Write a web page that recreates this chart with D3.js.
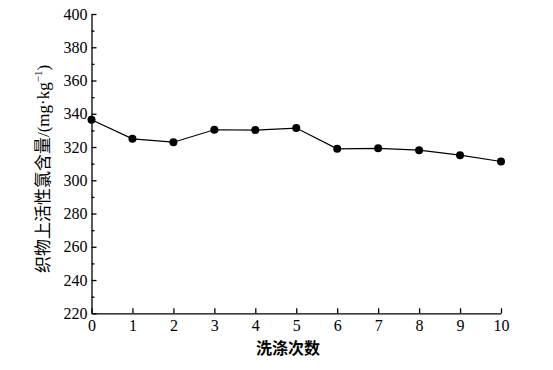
<!DOCTYPE html>
<html>
<head>
<meta charset="utf-8">
<script src="https://cdn.jsdelivr.net/npm/d3@7"></script>
<style>
  body { margin: 0; background: #fff; }
  svg { display: block; }
</style>
</head>
<body>
<svg id="chart" width="553" height="370"></svg>
<script>
// washes vs active chlorine on fabric
var washCounts = [0, 1, 2, 3, 4, 5, 6, 7, 8, 9, 10];
var chlorineValues = [336.4, 324.9, 322.9, 330.4, 330.2, 331.4, 318.9, 319.2, 318.1, 315.1, 311.3];
var xTickValues = [0, 1, 2, 3, 4, 5, 6, 7, 8, 9, 10];
var yTickValues = [220, 240, 260, 280, 300, 320, 340, 360, 380, 400];
var yMinorTicks = [230, 250, 270, 290, 310, 330, 350, 370, 390];
var xTitle = '洗涤次数';
var yTitle = '织物上活性氯含量';

var svg = d3.select('#chart');
var plotLeft = 91.5, plotRight = 501, plotTop = 14, plotBottom = 313.3;

var x = d3.scaleLinear().domain([0, 10]).range([plotLeft, plotRight]);
var y = d3.scaleLinear().domain([220, 400]).range([plotBottom, plotTop]);

var numFont = '"Liberation Serif", "Times New Roman", serif';
var cjkFont = '"Noto Sans CJK SC", sans-serif';

// x axis
var xAxis = svg.append('g')
    .attr('transform', 'translate(0,' + plotBottom + ')')
    .call(d3.axisBottom(x).tickValues(xTickValues).tickSize(-5).tickPadding(6).tickSizeOuter(0));
xAxis.selectAll('text').attr('font-family', numFont).attr('font-size', 16).attr('fill', '#000');

// y axis
var yAxis = svg.append('g')
    .attr('transform', 'translate(' + plotLeft + ',0)')
    .call(d3.axisLeft(y).tickValues(yTickValues).tickSize(-5).tickPadding(4).tickSizeOuter(0));
yAxis.selectAll('text').attr('font-family', numFont).attr('font-size', 16).attr('fill', '#000');

svg.append('g')
    .attr('transform', 'translate(' + plotLeft + ',0)')
    .call(d3.axisLeft(y).tickValues(yMinorTicks).tickSize(-3).tickFormat('').tickSizeOuter(0))
    .select('.domain').remove();

svg.selectAll('.domain, .tick line').attr('stroke', '#000').attr('stroke-width', 1.3);

// line + dots
var line = d3.line()
    .x(function(d, i){ return x(washCounts[i]); })
    .y(function(d){ return y(d); });

svg.append('path')
    .datum(chlorineValues)
    .attr('d', line)
    .attr('fill', 'none')
    .attr('stroke', '#000')
    .attr('stroke-width', 1.2);

svg.selectAll('circle.pt').data(chlorineValues).enter().append('circle')
    .attr('class', 'pt')
    .attr('cx', function(d, i){ return x(washCounts[i]); })
    .attr('cy', function(d){ return y(d); })
    .attr('r', 4)
    .attr('fill', '#000');

// titles
svg.append('text')
    .attr('x', 288)
    .attr('y', 354)
    .attr('text-anchor', 'middle')
    .attr('font-family', cjkFont)
    .attr('font-size', 16)
    .attr('font-weight', 'bold')
    .attr('fill', '#000')
    .text(xTitle);

var yt = svg.append('text')
    .attr('transform', 'translate(49,169) rotate(-90)')
    .attr('text-anchor', 'middle')
    .attr('fill', '#000')
    .attr('font-size', 17);
yt.append('tspan').attr('font-family', cjkFont).text(yTitle);
yt.append('tspan').attr('font-family', numFont).text('/(mg·kg');
yt.append('tspan').attr('font-family', numFont).attr('font-size', 11).attr('dy', -7).text('−1');
yt.append('tspan').attr('font-family', numFont).attr('dy', 7).text(')');
</script>
</body>
</html>
